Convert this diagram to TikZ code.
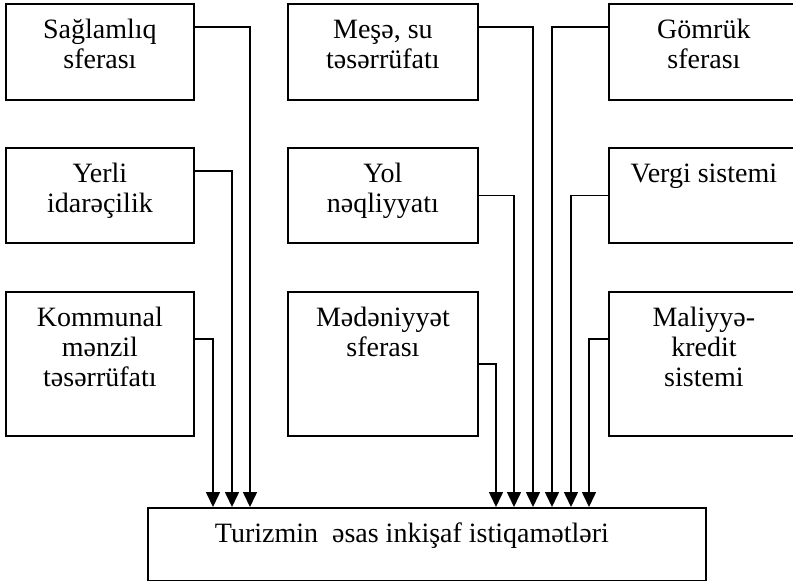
\documentclass[tikz,border=0pt]{standalone}
\usepackage{fontspec}
\setmainfont{Liberation Serif}
\usetikzlibrary{arrows.meta}

% box text: width, height, lines (set from the top edge)
\newcommand\boxtext[3]{\parbox[c][#2][t]{#1}{\centering\vspace{14pt}\strut #3}}

\begin{document}
\begin{tikzpicture}[x=1pt,y=-1pt,
  box/.style={draw, line width=1.8pt, inner sep=0pt, anchor=north west,
    font=\fontsize{28}{30}\selectfont},
  feed/.style={line width=1.6pt, -{Triangle[length=15pt,width=14pt]}}]
\useasboundingbox (0,0) rectangle (793,581);

% left column
\node[box] (s1) at (5,3)   {\boxtext{188pt}{96pt}{Sağlamlıq\\sferası}};
\node[box] (s2) at (5,147) {\boxtext{188pt}{95pt}{Yerli\\idarəçilik}};
\node[box] (s3) at (5,291) {\boxtext{188pt}{144pt}{Kommunal\\mənzil\\təsərrüfatı}};

% middle column
\node[box] (m1) at (287,3)   {\boxtext{190pt}{96pt}{Meşə, su\\təsərrüfatı}};
\node[box] (m2) at (287,147) {\boxtext{190pt}{95pt}{Yol\\nəqliyyatı}};
\node[box] (m3) at (287,291) {\boxtext{190pt}{144pt}{Mədəniyyət\\sferası}};

% right column
\node[box] (r1) at (608,3)   {\boxtext{190pt}{96pt}{Gömrük\\sferası}};
\node[box] (r2) at (608,147) {\boxtext{190pt}{95pt}{Vergi sistemi}};
\node[box] (r3) at (608,291) {\boxtext{190pt}{144pt}{Maliyyə-\\kredit\\sistemi}};

% target
\node[box] (goal) at (147,507)
  {\boxtext{558pt}{73pt}{Turizmin\ \ əsas inkişaf istiqamətləri\hspace*{30pt}}};

% feeds from the left column
\draw[feed] ([yshift=-24pt]s1.north east) -| ([xshift=103pt]goal.north west);
\draw[feed] ([yshift=-24pt]s2.north east) -| ([xshift=85pt]goal.north west);
\draw[feed] ([yshift=-48pt]s3.north east) -| ([xshift=66pt]goal.north west);

% feeds from the middle column
\draw[feed] ([yshift=-24pt]m1.north east) -| ([xshift=386pt]goal.north west);
\draw[feed] (m2.east) -| ([xshift=367pt]goal.north west);
\draw[feed] (m3.east) -| ([xshift=349pt]goal.north west);

% feeds from the right column
\draw[feed] ([yshift=-24pt]r1.north west) -| ([xshift=405pt]goal.north west);
\draw[feed] (r2.west) -| ([xshift=424pt]goal.north west);
\draw[feed] ([yshift=-48pt]r3.north west) -| ([xshift=442pt]goal.north west);
\end{tikzpicture}
\end{document}
